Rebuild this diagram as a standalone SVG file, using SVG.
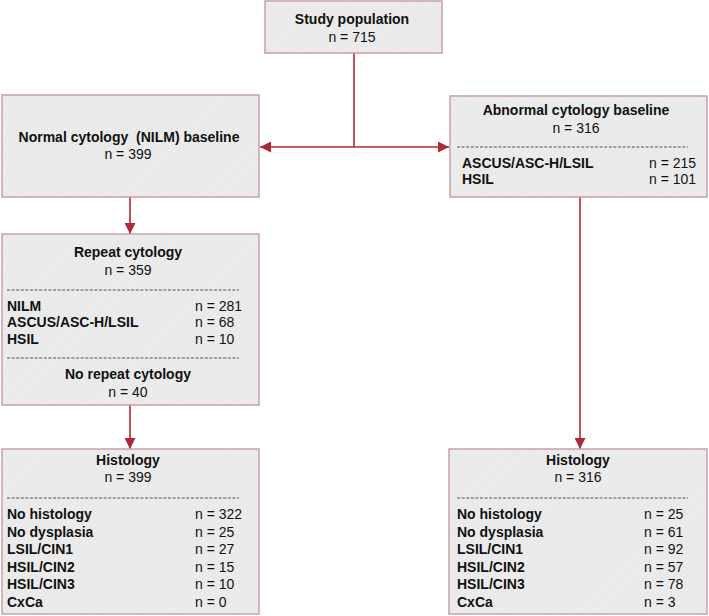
<svg xmlns="http://www.w3.org/2000/svg" width="709" height="616" viewBox="0 0 709 616">
<style>
.box{fill:url(#hatch);stroke:#c9a0a6;stroke-width:1.5}
.b{font-family:"Liberation Sans",Arial,sans-serif;font-size:14px;font-weight:bold;fill:#111}
.r{font-family:"Liberation Sans",Arial,sans-serif;font-size:14px;fill:#111}
.c{text-anchor:middle}
.dash{stroke:#444;stroke-width:0.9;stroke-dasharray:3 1.6}
.conn{stroke:#b02838;stroke-width:1.6;fill:none}
</style>
<defs>
<pattern id="hatch" width="4" height="4" patternUnits="userSpaceOnUse" patternTransform="rotate(45)">
<rect width="4" height="4" fill="#ececec"/>
<line x1="0" y1="0" x2="0" y2="4" stroke="#e2e2e2" stroke-width="1.2"/>
</pattern>
<marker id="ah" viewBox="0 0 10 10" refX="10" refY="5" markerWidth="11" markerHeight="11" markerUnits="userSpaceOnUse" orient="auto">
<path d="M0,0 L10,5 L0,10 Z" fill="#b02838"/>
</marker>
</defs>
<g id="connectors">
<line class="conn" x1="354" y1="53" x2="354" y2="147"/>
<line class="conn" x1="354" y1="147" x2="260" y2="147" marker-end="url(#ah)"/>
<line class="conn" x1="354" y1="147" x2="449" y2="147" marker-end="url(#ah)"/>
<line class="conn" x1="130" y1="197" x2="130" y2="234" marker-end="url(#ah)"/>
<line class="conn" x1="130" y1="405" x2="130" y2="449" marker-end="url(#ah)"/>
<line class="conn" x1="580" y1="197" x2="580" y2="449" marker-end="url(#ah)"/>
</g>
<g id="study">
<rect class="box" x="265" y="1" width="177" height="52"/>
<text class="b c" x="352" y="24">Study population</text>
<text class="r c" x="352" y="42">n = 715</text>
</g>
<g id="normal">
<rect class="box" x="2" y="95" width="257" height="102"/>
<text class="b c" x="129" y="142" xml:space="preserve">Normal cytology  (NILM) baseline</text>
<text class="r c" x="128" y="159">n = 399</text>
</g>
<g id="abnormal">
<rect class="box" x="450" y="96" width="257" height="101"/>
<text class="b c" x="576" y="115">Abnormal cytology baseline</text>
<text class="r c" x="576" y="133">n = 316</text>
<line class="dash" x1="457" y1="147" x2="688" y2="147"/>
<text class="b" x="462" y="168">ASCUS/ASC-H/LSIL</text>
<text class="r" x="649" y="168">n = 215</text>
<text class="b" x="462" y="184">HSIL</text>
<text class="r" x="649" y="184">n = 101</text>
</g>
<g id="repeat">
<rect class="box" x="2" y="234" width="257" height="171"/>
<text class="b c" x="128" y="257">Repeat cytology</text>
<text class="r c" x="128" y="275">n = 359</text>
<line class="dash" x1="7" y1="290" x2="239" y2="290"/>
<text class="b" x="7" y="311">NILM</text>
<text class="r" x="195" y="311">n = 281</text>
<text class="b" x="7" y="327">ASCUS/ASC-H/LSIL</text>
<text class="r" x="195" y="327">n = 68</text>
<text class="b" x="7" y="344">HSIL</text>
<text class="r" x="195" y="344">n = 10</text>
<line class="dash" x1="7" y1="358" x2="239" y2="358"/>
<text class="b c" x="128" y="379">No repeat cytology</text>
<text class="r c" x="128" y="397">n = 40</text>
</g>
<g id="histology-left">
<rect class="box" x="2" y="449" width="257" height="165"/>
<text class="b c" x="128" y="465">Histology</text>
<text class="r c" x="128" y="482">n = 399</text>
<line class="dash" x1="7" y1="498" x2="239" y2="498"/>
<text class="b" x="7" y="519">No histology</text>
<text class="r" x="195" y="519">n = 322</text>
<text class="b" x="7" y="537">No dysplasia</text>
<text class="r" x="195" y="537">n = 25</text>
<text class="b" x="7" y="554">LSIL/CIN1</text>
<text class="r" x="195" y="554">n = 27</text>
<text class="b" x="7" y="572">HSIL/CIN2</text>
<text class="r" x="195" y="572">n = 15</text>
<text class="b" x="7" y="589">HSIL/CIN3</text>
<text class="r" x="195" y="589">n = 10</text>
<text class="b" x="7" y="607">CxCa</text>
<text class="r" x="195" y="607">n = 0</text>
</g>
<g id="histology-right">
<rect class="box" x="449" y="449" width="258" height="165"/>
<text class="b c" x="578" y="465">Histology</text>
<text class="r c" x="578" y="482">n = 316</text>
<line class="dash" x1="457" y1="498" x2="688" y2="498"/>
<text class="b" x="457" y="519">No histology</text>
<text class="r" x="644" y="519">n = 25</text>
<text class="b" x="457" y="537">No dysplasia</text>
<text class="r" x="644" y="537">n = 61</text>
<text class="b" x="457" y="554">LSIL/CIN1</text>
<text class="r" x="644" y="554">n = 92</text>
<text class="b" x="457" y="572">HSIL/CIN2</text>
<text class="r" x="644" y="572">n = 57</text>
<text class="b" x="457" y="589">HSIL/CIN3</text>
<text class="r" x="644" y="589">n = 78</text>
<text class="b" x="457" y="607">CxCa</text>
<text class="r" x="644" y="607">n = 3</text>
</g>
</svg>
